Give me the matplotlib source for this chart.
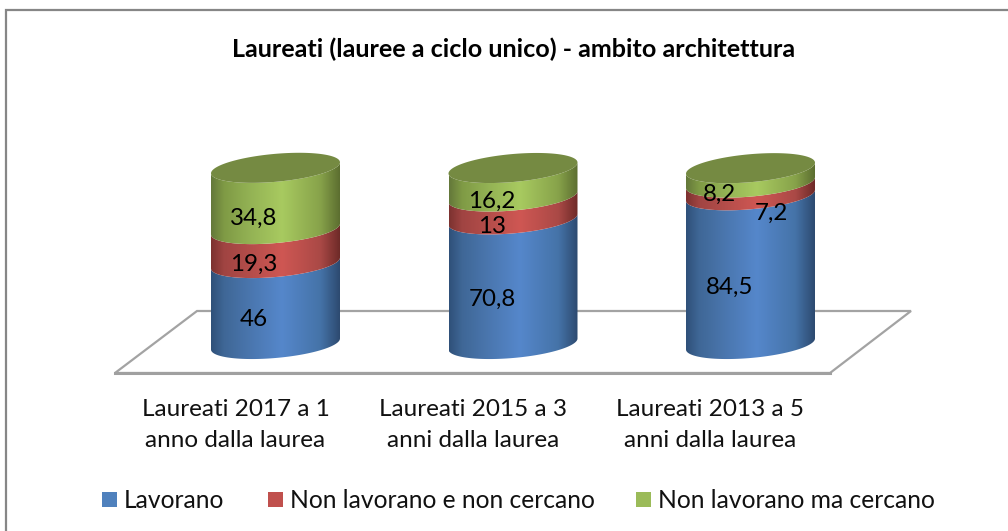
import numpy as np
import matplotlib
matplotlib.use('Agg')
import matplotlib.pyplot as plt
from matplotlib.colors import LinearSegmentedColormap
from matplotlib.patches import Polygon, Rectangle, PathPatch
from matplotlib.path import Path

categories = ['Laureati 2017 a 1\nanno dalla laurea',
              'Laureati 2015 a 3\nanni dalla laurea',
              'Laureati 2013 a 5\nanni dalla laurea']
series_names = ['Lavorano', 'Non lavorano e non cercano', 'Non lavorano ma cercano']
lavorano = [46, 70.8, 84.5]
non_cercano = [19.3, 13, 7.2]
ma_cercano = [34.8, 16.2, 8.2]
values = [lavorano, non_cercano, ma_cercano]
labels = [['46', '70,8', '84,5'], ['19,3', '13', '7,2'], ['34,8', '16,2', '8,2']]
title = 'Laureati (lauree a ciclo unico) - ambito architettura'

W, H = 1008, 531
px_x = 237.5   # pixels per category
px_y = 1.76    # pixels per percent
x0_px, y0_px = 275.5, 344

colors = ['#4F81BD', '#C0504D', '#9BBB59']
stops = [0, 0.1, 0.3, 0.55, 0.85, 1]
ramps = [['#2f5079', '#3f6796', '#4a76ae', '#5587cb', '#4573a8', '#2d4a70'],
         ['#7c3230', '#a04442', '#b44d4a', '#cf5753', '#aa4946', '#6e2a28'],
         ['#64783a', '#7f9a45', '#93b254', '#a8ca60', '#87a24a', '#5c6e30']]
top_color = '#758a42'

fig = plt.figure(figsize=(W / 100, H / 100), dpi=100)
plt.rcParams['font.family'] = ['Lato', 'DejaVu Sans']
ax = fig.add_axes([0, 0, 1, 1])
ax.set_xlim(-x0_px / px_x, (W - x0_px) / px_x)
ax.set_ylim((y0_px - H) / px_y, y0_px / px_y)
ax.axis('off')


def dx(p):
    return (p - x0_px) / px_x


def dy(p):
    return (y0_px - p) / px_y


# chart frame, runs off the right and bottom edge of the image
ax.add_patch(Rectangle((dx(6), dy(540)), 1020 / px_x, 530 / px_y, fill=False,
                       ec='#868686', lw=1.6))

# floor
floor = [(115, 373), (197, 311), (911, 311), (830, 373)]
ax.add_patch(Polygon([(dx(a), dy(b)) for a, b in floor], closed=True, fc='white',
                     ec='#a3a3a3', lw=1.6, zorder=1))
ax.plot([dx(115), dx(830)], [dy(373), dy(373)], color='#a0a0a0', lw=2.2, zorder=1)

half_w = 64.5 / px_x
rise = 5.5 / px_y      # tilt of the ellipse
half_h = 14 / px_y
t = np.linspace(0, 2 * np.pi, 181)


def ring(cx, level):
    return (cx + half_w * np.cos(t),
            level + half_h * np.sin(t) + rise * np.cos(t))


def side_path(cx, low, high):
    # lower front edge of the two rims closes the side of one slice
    ts = np.linspace(np.pi, 2 * np.pi, 91)
    xs = cx + half_w * np.cos(ts)
    lo = low + half_h * np.sin(ts) + rise * np.cos(ts)
    hi = high + half_h * np.sin(ts) + rise * np.cos(ts)
    pts = np.vstack([np.column_stack([xs, lo]),
                     np.column_stack([xs[::-1], hi[::-1]])])
    return Path(np.vstack([pts, pts[0]]), closed=True)


for i in range(len(categories)):
    base = 0
    for s, vals in enumerate(values):
        top = base + vals[i]
        cmap = LinearSegmentedColormap.from_list('c', list(zip(stops, ramps[s])))
        grad = np.linspace(0, 1, 256).reshape(1, -1)
        im = ax.imshow(grad, cmap=cmap, aspect='auto', zorder=2 + s,
                       extent=[i - half_w, i + half_w, -40, 130])
        patch = PathPatch(side_path(i, base, top), fc='none', ec='none',
                          transform=ax.transData)
        ax.add_patch(patch)
        im.set_clip_path(patch)
        base = top
    rx, ry = ring(i, base)
    ax.fill(rx, ry, color=top_color, lw=0, zorder=6)

ax.set_xlim(-x0_px / px_x, (W - x0_px) / px_x)
ax.set_ylim((y0_px - H) / px_y, y0_px / px_y)

# value labels, pixel anchors as placed in the original
label_pos = [[(254, 320), (492, 299), (730, 287)],
             [(254, 264), (492, 226), (771, 213)],
             [(254, 218), (492, 201), (719, 194)]]
for s in range(3):
    for i in range(3):
        a, b = label_pos[s][i]
        ax.text(dx(a), dy(b), labels[s][i], ha='center', va='center',
                fontsize=17.4, color='black', zorder=8)

ax.text(dx(514), dy(49), title, ha='center', va='center', fontsize=18.1,
        fontweight='bold', color='black')

for i, cat in enumerate(categories):
    ax.text(i + dx(235.5), dy(425), cat, ha='center', va='center', fontsize=17.5,
            linespacing=1.55, color='#111111')

# legend
legend_x = [102, 268, 636]
for name, col, lx in zip(series_names, colors, legend_x):
    ax.add_patch(Rectangle((dx(lx), dy(507)), 15 / px_x, 15 / px_y, fc=col, ec='none'))
    ax.text(dx(lx + 22), dy(500), name, ha='left', va='center', fontsize=17.7,
            color='#111111')

fig.savefig('out.png', dpi=100, facecolor='white')
